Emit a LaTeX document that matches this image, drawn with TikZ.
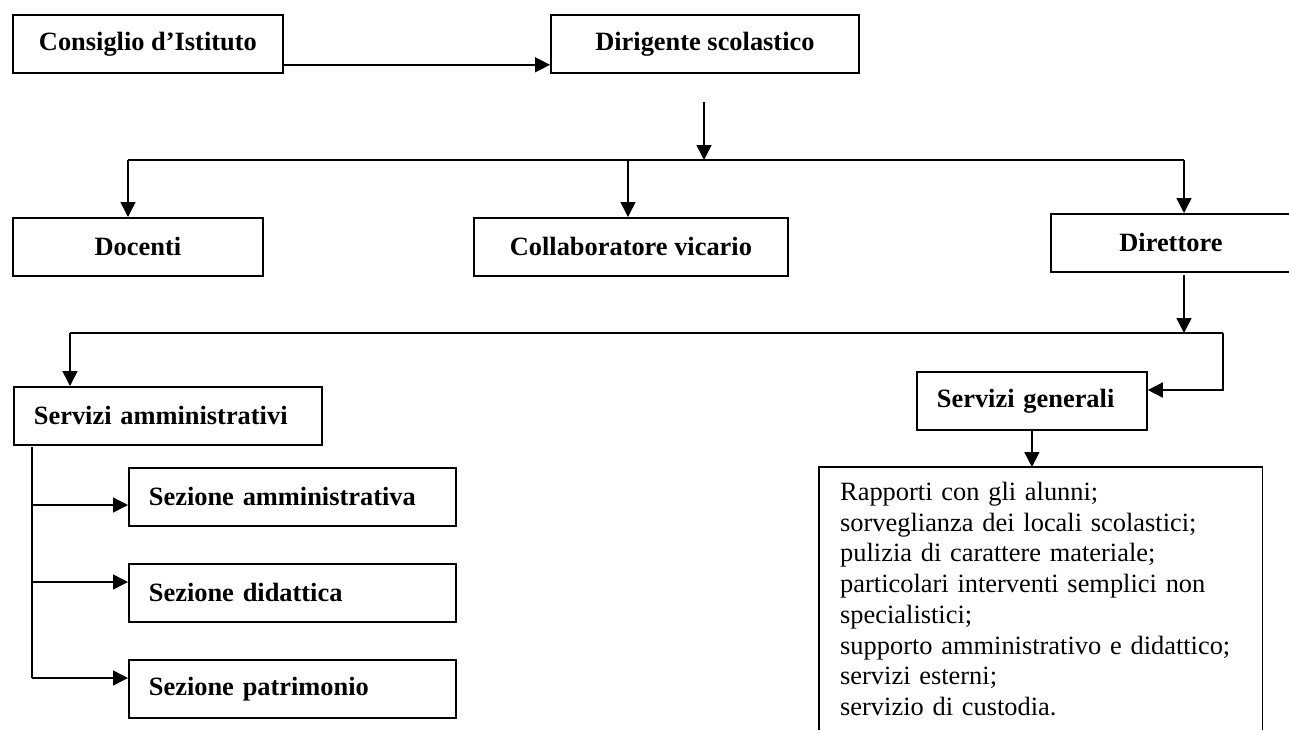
\documentclass[tikz,border=0pt]{standalone}
\usepackage{fontspec}
\setmainfont{Liberation Serif}
\usetikzlibrary{arrows.meta,calc}
\tikzset{
  box/.style={draw, line width=1.8pt, inner sep=0pt, anchor=north west, minimum height=58pt,
    font=\fontsize{26.4}{30.7}\selectfont\bfseries},
  leftbox/.style={box, inner xsep=20pt, align=left},
  plain/.style={line width=1.5pt},
  conn/.style={line width=1.5pt, -{Triangle[length=15pt,width=15pt]}},
}
\begin{document}
\begin{tikzpicture}[x=1pt,y=-1pt]
\clip (0,0) rectangle (1289,729);
\fill[white] (0,0) rectangle (1289,729);

% nodes
\node[box, minimum width=270pt] (ci) at (12,14) {Consiglio d’Istituto};
\node[box, minimum width=308pt] (ds) at (550,14) {Dirigente scolastico};
\node[box, minimum width=250pt] (doc) at (12,217) {Docenti};
\node[box, minimum width=314pt] (cv) at (473,217) {Collaboratore vicario};
\node[box, minimum width=240pt] (dir) at (1050,213) {Direttore};
\node[leftbox, text width=268pt] (sa) at (13,386) {Servizi amministrativi};
\node[leftbox, text width=190pt] (sg) at (916,371) {Servizi generali};
\node[leftbox, text width=287pt] (sez1) at (128,467) {Sezione amministrativa};
\node[leftbox, text width=287pt] (sez2) at (128,563) {Sezione didattica};
\node[leftbox, text width=287pt] (sez3) at (128,659) {Sezione patrimonio};
\node[anchor=north west, inner xsep=21pt, inner ysep=15pt, text width=401pt, align=left,
      font=\fontsize{26.4}{30.7}\selectfont] (compiti) at (819,467)
  {Rapporti con gli alunni;\\
   sorveglianza dei locali scolastici;\\
   pulizia di carattere materiale;\\
   particolari interventi semplici non\\
   specialistici;\\
   supporto amministrativo e didattico;\\
   servizi esterni;\\
   servizio di custodia.};
\draw[line width=1.8pt] ($(compiti.north west)+(0,320)$) -- (compiti.north west)
  -- (compiti.north east) -- ++(0,320);

% connectors
\draw[conn] ([yshift=9pt]ci.south east) -- ([yshift=9pt]ds.south west);

\coordinate (dsout) at (704,102);
\coordinate (bus) at (704,160);
\draw[conn] (dsout) -- (bus);
\coordinate (b1) at (128,160);
\coordinate (b2) at (628,160);
\coordinate (b3) at (1184,160);
\draw[plain] (b1) -- (b3);
\draw[conn] (b1) -- (b1 |- doc.north);
\draw[conn] (b2) -- (b2 |- cv.north);
\draw[conn] (b3) -- (b3 |- dir.north);

\coordinate (d1) at (1184,275);
\coordinate (d2) at (1184,333);
\draw[conn] (d1) -- (d2);
\coordinate (c1) at (70,333);
\coordinate (c2) at (1223,333);
\coordinate (c3) at (1223,390);
\draw[plain] (c1) -- (c2);
\draw[conn] (c1) -- (c1 |- sa.north);
\draw[conn] (c2) -- (c3) -- (sg.east |- c3);
\draw[conn] (sg.south) -- (sg.south |- compiti.north);

\coordinate (v0) at (32,447);
\coordinate (r1) at (32,505);
\coordinate (r2) at (32,582);
\coordinate (r3) at (32,678);
\draw[plain] (v0) -- (r3);
\draw[conn] (r1) -- (r1 -| sez1.west);
\draw[conn] (r2) -- (r2 -| sez2.west);
\draw[conn] (r3) -- (r3 -| sez3.west);
\end{tikzpicture}
\end{document}
